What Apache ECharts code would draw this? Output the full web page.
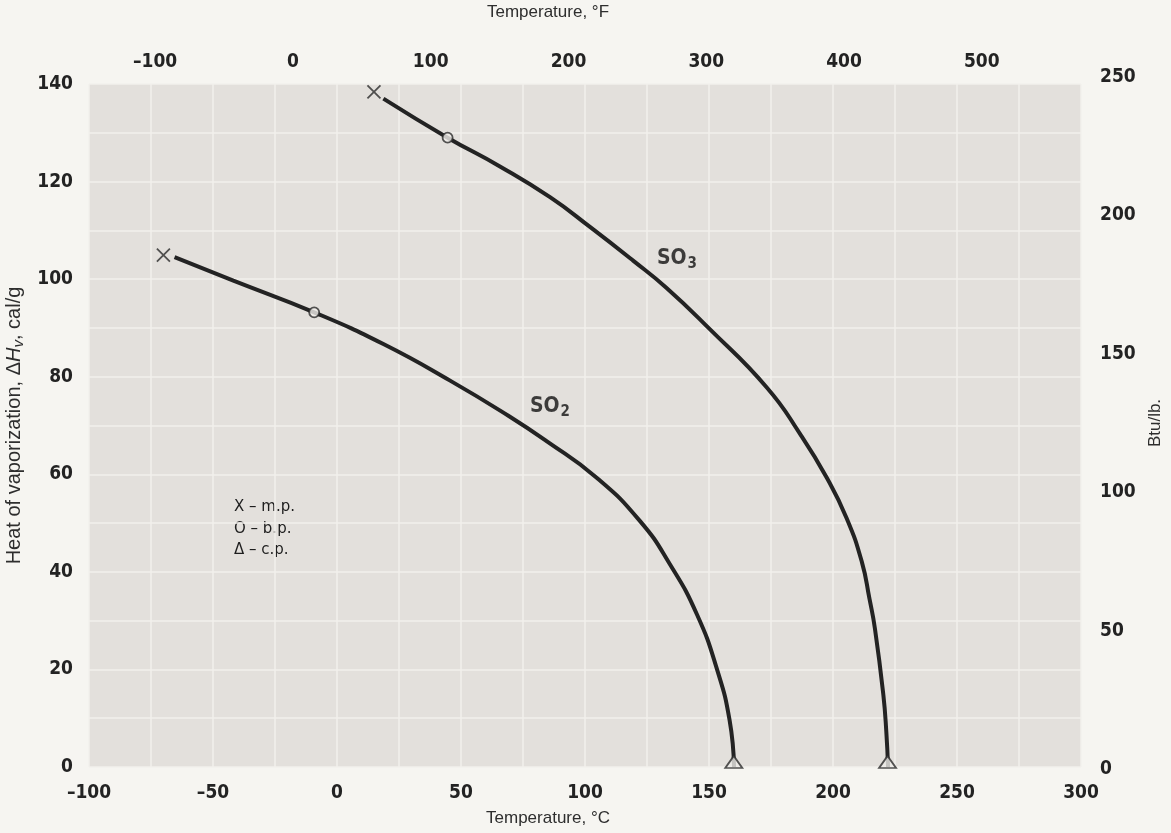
<!DOCTYPE html>
<html>
<head>
<meta charset="utf-8">
<title>Heat of vaporization, SO2 and SO3</title>
<script src="https://cdn.jsdelivr.net/npm/echarts@6/dist/echarts.min.js"></script>
<style>
  html, body { margin: 0; padding: 0; background: #f6f5f1; }
  #chart { width: 1171px; height: 833px; }
</style>
</head>
<body>
<div id="chart"></div>
<script>
// [temperature °C, heat of vaporization cal/g]
const so2Curve = [
  [-65.5, 104.5], [-41.8, 99.7], [-9.2, 93.2], [18.7, 86.7], [45.6, 79.2],
  [69.1, 72.0], [84.5, 66.8], [104.7, 59.3], [122.2, 50.4], [134.3, 41.5],
  [145.2, 31.2], [153.3, 19.9], [158.3, 9.6], [160.1, 0],
]
const so3Curve = [
  [18.7, 137.0], [44.6, 129.0], [65.7, 123.1], [85.9, 116.8], [102.0, 110.7],
  [119.4, 103.8], [132.9, 98.2], [149.6, 90.1], [173.3, 77.8], [186.7, 68.3],
  [197.5, 59.3], [205.5, 51.0], [211.6, 42.1], [214.7, 34.5], [216.9, 28.4],
  [220.3, 14.8], [221.5, 7.2], [222.2, 0],
]
// m.p. / b.p. / c.p. markers, SO2 first then SO3
const meltingPoints = [[-70.0, 104.9], [14.9, 138.4]]
const boilingPoints = [[-9.2, 93.2], [44.6, 129.0]]
const criticalPoints = [[160.0, 0], [222.0, 0]]
const curveNames = ['2', '3']
const curveLabelAt = [[77.8, 73.8], [129.0, 104.2]]
const fahrenheitTicks = [-100, 0, 100, 200, 300, 400, 500]
const legendLines = ['X \u2013 m.p.', 'O \u2013 b.p.', '\u0394 \u2013 c.p.']

const tickFont = '"Liberation Sans Narrow", "DejaVu Sans Condensed", sans-serif'
const titleFont = '"Liberation Sans", Arial, sans-serif'
const ink = '#232323'
const gridWhite = '#f2f0ec'

const minus = (v) => String(v).replace('-', '\u2013')
const tickLabel = {
  color: ink,
  fontFamily: tickFont,
  fontSize: 19,
  fontWeight: 'bold',
  formatter: minus,
}
const titleStyle = {
  color: '#2e2e2e',
  fontFamily: titleFont,
  fontSize: 17,
}

let option = {
  backgroundColor: '#f6f5f1',
  animation: false,
  grid: [
    {
      left: 89, right: 90, top: 84, bottom: 66,
      outerBoundsMode: 'none',
      show: true, backgroundColor: '#e3e0dc', borderWidth: 0,
    },
    // right hand Btu/lb scale sits a little higher in the original
    { left: 89, right: 90, top: 77, bottom: 64, outerBoundsMode: 'none', show: false },
  ],
  xAxis: [
    {
      type: 'value',
      min: -100,
      max: 300,
      interval: 50,
      name: 'Temperature, °C',
      nameLocation: 'middle',
      nameGap: 43,
      nameTextStyle: { ...titleStyle, padding: [0, 74, 0, 0] },
      axisLine: { show: false },
      axisTick: { show: false },
      axisLabel: { ...tickLabel, margin: 17 },
      splitLine: { lineStyle: { color: gridWhite, width: 1.5 } },
      minorTick: { show: false, splitNumber: 2 },
      minorSplitLine: { show: true, lineStyle: { color: gridWhite, width: 1.5 } },
    },
    {
      type: 'value',
      position: 'top',
      min: -100 * 1.8 + 32,
      max: 300 * 1.8 + 32,
      name: 'Temperature, °F',
      nameLocation: 'middle',
      nameGap: 63,
      nameTextStyle: { ...titleStyle, padding: [0, 74, 0, 0] },
      axisLine: { show: false },
      axisTick: { show: false },
      axisLabel: { ...tickLabel, margin: 12, customValues: fahrenheitTicks },
      splitLine: { show: false },
    },
    { type: 'value', gridIndex: 1, min: 0, max: 1, show: false },
  ],
  yAxis: [
    {
      type: 'value',
      min: 0,
      max: 140,
      interval: 20,
      name: '{t|Heat of vaporization, \u0394}{i|H}{s|v}{t|, cal/g}',
      nameLocation: 'middle',
      nameGap: 61,
      nameRotate: 90,
      nameTextStyle: {
        ...titleStyle,
        rich: {
          t: { ...titleStyle, fontSize: 20 },
          i: { ...titleStyle, fontSize: 20, fontStyle: 'italic' },
          s: { ...titleStyle, fontSize: 15, fontStyle: 'italic', padding: [8, 0, 0, 0] },
        },
      },
      axisLine: { show: false },
      axisTick: { show: false },
      axisLabel: { ...tickLabel, margin: 16 },
      splitLine: { lineStyle: { color: gridWhite, width: 1.5 } },
      minorTick: { show: false, splitNumber: 2 },
      minorSplitLine: { show: true, lineStyle: { color: gridWhite, width: 1.5 } },
    },
    {
      type: 'value',
      gridIndex: 1,
      position: 'right',
      min: 0,
      max: 250,
      interval: 50,
      name: 'Btu/lb.',
      nameLocation: 'middle',
      nameGap: 64,
      nameRotate: 90,
      nameTextStyle: titleStyle,
      axisLine: { show: false },
      axisTick: { show: false },
      axisLabel: { ...tickLabel, margin: 19 },
      splitLine: { show: false },
    },
  ],
  graphic: legendLines.map((text, i) => ({
    type: 'text',
    left: 234,
    top: 500 + i * 21.5,
    style: {
      text,
      fill: '#1e1e1e',
      font: '15px "DejaVu Sans", sans-serif',
      letterSpacing: 2,
    },
  })),
  series: [
    {
      name: 'SO2',
      type: 'line',
      data: so2Curve,
      smooth: 0.5,
      symbol: 'none',
      lineStyle: { color: ink, width: 4 },
    },
    {
      name: 'SO3',
      type: 'line',
      data: so3Curve,
      smooth: 0.5,
      symbol: 'none',
      lineStyle: { color: ink, width: 4 },
    },
    {
      name: 'm.p.',
      type: 'scatter',
      data: meltingPoints,
      symbol: 'path://M0,0L10,10M10,0L0,10',
      symbolSize: 13,
      clip: false,
      z: 3,
      itemStyle: { color: 'rgba(0,0,0,0)', borderColor: '#2b2b2b', borderWidth: 1.8 },
    },
    {
      name: 'b.p.',
      type: 'scatter',
      data: boilingPoints,
      symbol: 'circle',
      symbolSize: 10,
      clip: false,
      z: 3,
      itemStyle: { color: '#f1efeb', borderColor: '#2b2b2b', borderWidth: 1.8 },
    },
    {
      name: 'c.p.',
      type: 'scatter',
      data: criticalPoints,
      symbol: 'triangle',
      symbolSize: [17, 12],
      symbolOffset: [0, -5],
      clip: false,
      z: 3,
      itemStyle: { color: '#eeece8', borderColor: '#2b2b2b', borderWidth: 1.8 },
    },
    {
      name: 'labels',
      type: 'scatter',
      data: curveLabelAt.map((p, i) => ({ value: p, name: curveNames[i] })),
      symbolSize: 0,
      silent: true,
      label: {
        show: true,
        position: 'right',
        distance: 0,
        formatter: (p) => `{a|SO}{b|${p.name}}`,
        rich: {
          a: { color: '#111', fontFamily: tickFont, fontSize: 21, fontWeight: 'bold' },
          b: { color: '#111', fontFamily: tickFont, fontSize: 15, fontWeight: 'bold', padding: [10, 0, 0, 1] },
        },
      },
    },
  ],
}

let myChart = echarts.init(document.getElementById('chart'))
myChart.setOption(option)
</script>
</body>
</html>
